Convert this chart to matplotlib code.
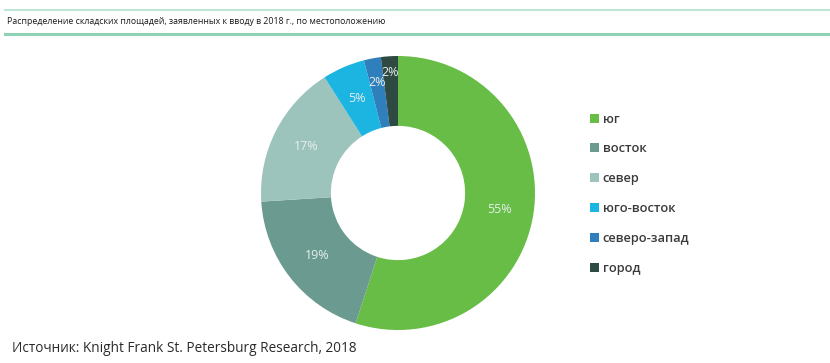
import matplotlib.pyplot as plt
import numpy as np
from matplotlib.patches import Patch
from matplotlib.lines import Line2D

# доли площадей по местоположению, %
categories = ['юг', 'восток', 'север', 'юго-восток', 'северо-запад', 'город']
shares = [55, 19, 17, 5, 2, 2]
colors = ['#67bd45', '#6a9a90', '#9dc3bd', '#1cb4e0', '#2f7fbd', '#2e4a42']
# радиус подписи (маленькие сектора подписываем чуть дальше от центра)
label_radius = [0.75, 0.75, 0.75, 0.75, 0.82, 0.88]

title = 'Распределение складских площадей, заявленных к вводу в 2018 г., по местоположению'
source = 'Источник: Knight Frank St. Petersburg Research, 2018'

plt.rcParams['font.family'] = ['Open Sans', 'DejaVu Sans']

fig = plt.figure(figsize=(8.3, 3.63), dpi=100)
W, H = 830, 363

# линии оформления сверху
fig.add_artist(Line2D([5 / W, 1], [1 - 10 / H] * 2, color='#bfe6d5', lw=1.5))
fig.add_artist(Line2D([5 / W, 1], [1 - 34 / H] * 2, color='#8fd3b5', lw=2.2))
fig.text(7 / W, 1 - 22 / H, title, fontsize=6.3, color='#1a1a1a', va='center', ha='left')

# кольцевая диаграмма
cx, cy, r = 398, 193, 137
ax = fig.add_axes([(cx - r) / W, (H - cy - r) / H, 2 * r / W, 2 * r / H])
wedges, _ = ax.pie(shares, colors=colors, startangle=90, counterclock=False,
                   wedgeprops=dict(width=0.51, linewidth=0))
ax.set_xlim(-1, 1)
ax.set_ylim(-1, 1)
ax.set_aspect('equal')
ax.axis('off')

for w, val, rad in zip(wedges, shares, label_radius):
    ang = np.deg2rad((w.theta1 + w.theta2) / 2)
    ax.text(rad * np.cos(ang), rad * np.sin(ang), f'{val}%', ha='center', va='center',
            fontsize=9, color='#e6f0ec')

handles = [Patch(facecolor=c, edgecolor='none') for c in colors]
fig.legend(handles, categories, loc='upper left', bbox_to_anchor=(578 / W, 1 - 101 / H),
           frameon=False, prop=dict(size=9.3, weight='semibold'), handlelength=0.7,
           handleheight=0.7, handletextpad=0.3, labelspacing=1.3, labelcolor='#3a3a3a')

fig.text(12 / W, 1 - 348 / H, source, fontsize=9.8, color='#2a2a2a', va='center', ha='left')

fig.savefig('out.png', dpi=100, facecolor='white')
